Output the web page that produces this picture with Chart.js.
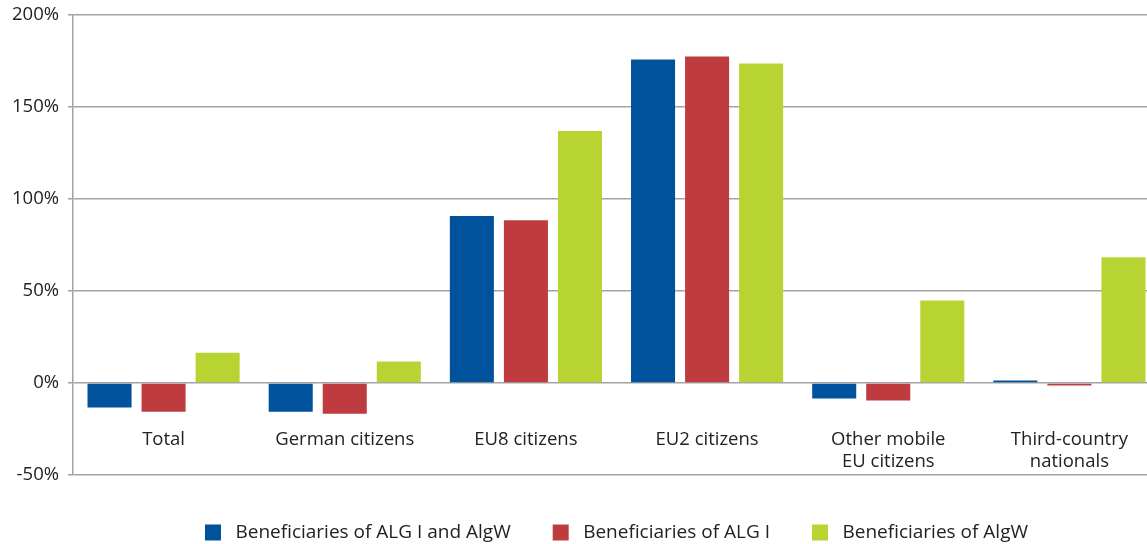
<!DOCTYPE html>
<html>
<head>
<meta charset="utf-8">
<script src="https://cdn.jsdelivr.net/npm/chart.js@4/dist/chart.umd.min.js"></script>
<style>
  html, body { margin: 0; padding: 0; background: #fff; overflow: hidden; }
  /* the original plot runs a little past the right edge of the picture */
  #wrap { width: 1160px; height: 544px; }
</style>
</head>
<body>
<div id="wrap"><canvas id="chart"></canvas></div>
<script>
// categories (multi-line where the picture breaks the label)
const categories = [
  'Total',
  'German citizens',
  'EU8 citizens',
  'EU2 citizens',
  ['Other mobile', 'EU citizens'],
  ['Third-country', 'nationals']
];

// change in %
const algIandAlgW = [-13.3, -15.6, 90.7, 175.8, -8.4, 1.3];
const algI        = [-15.6, -16.7, 88.5, 177.4, -9.5, -1.3];
const algW        = [16.5, 11.7, 137.0, 173.6, 44.9, 68.3];

const seriesNames = [
  'Beneficiaries of ALG I and AlgW',
  'Beneficiaries of ALG I',
  'Beneficiaries of AlgW'
];

const yTicks = [-50, 0, 50, 100, 150, 200];

const fontFamily = '"Open Sans", "Noto Sans", sans-serif';
const textColor = '#222';
const gridColor = '#a3a3a3';

const ctx = document.getElementById('chart').getContext('2d');
new Chart(ctx, {
  type: 'bar',
  data: {
    labels: categories,
    datasets: [
      { label: seriesNames[0], data: algIandAlgW, backgroundColor: '#00529c' },
      { label: seriesNames[1], data: algI, backgroundColor: '#be3c3f' },
      { label: seriesNames[2], data: algW, backgroundColor: '#b8d432' }
    ]
  },
  options: {
    responsive: true,
    maintainAspectRatio: false,
    animation: false,
    layout: { padding: { top: 0, right: 0, bottom: -8, left: 0 } },
    datasets: {
      bar: { categoryPercentage: 0.895, barPercentage: 0.815 }
    },
    scales: {
      x: {
        position: { y: -19.1 },
        grid: { display: false },
        border: { display: false },
        ticks: {
          color: textColor,
          padding: 2,
          maxRotation: 0,
          autoSkip: false,
          font: { family: fontFamily, size: 18.5, lineHeight: 1.2 }
        }
      },
      // empty spacer between plot and legend
      spacer: {
        type: 'linear',
        position: 'bottom',
        grid: { display: false },
        border: { display: false },
        ticks: { display: false },
        afterFit: s => { s.height = 6; }
      },
      y: {
        min: -50,
        max: 200,
        afterFit: s => { s.width = 73; s.paddingTop = 15; },
        afterBuildTicks: s => { s.ticks = yTicks.map(v => ({ value: v })); },
        border: { display: true, color: gridColor, width: 1.5 },
        grid: { color: gridColor, lineWidth: 1.5, tickLength: 5 },
        ticks: {
          color: textColor,
          padding: 9,
          font: { family: fontFamily, size: 18.5 },
          callback: v => v + '%'
        }
      }
    },
    plugins: {
      tooltip: { enabled: false },
      legend: {
        position: 'bottom',
        fullSize: false,
        labels: {
          color: textColor,
          boxWidth: 16,
          boxHeight: 16,
          padding: 42,
          font: { family: fontFamily, size: 19 },
          // a little more room between the colour box and its text
          generateLabels: chart => Chart.defaults.plugins.legend.labels.generateLabels(chart)
            .map(item => ({ ...item, text: ' ' + item.text }))
        }
      }
    }
  }
});
</script>
</body>
</html>
